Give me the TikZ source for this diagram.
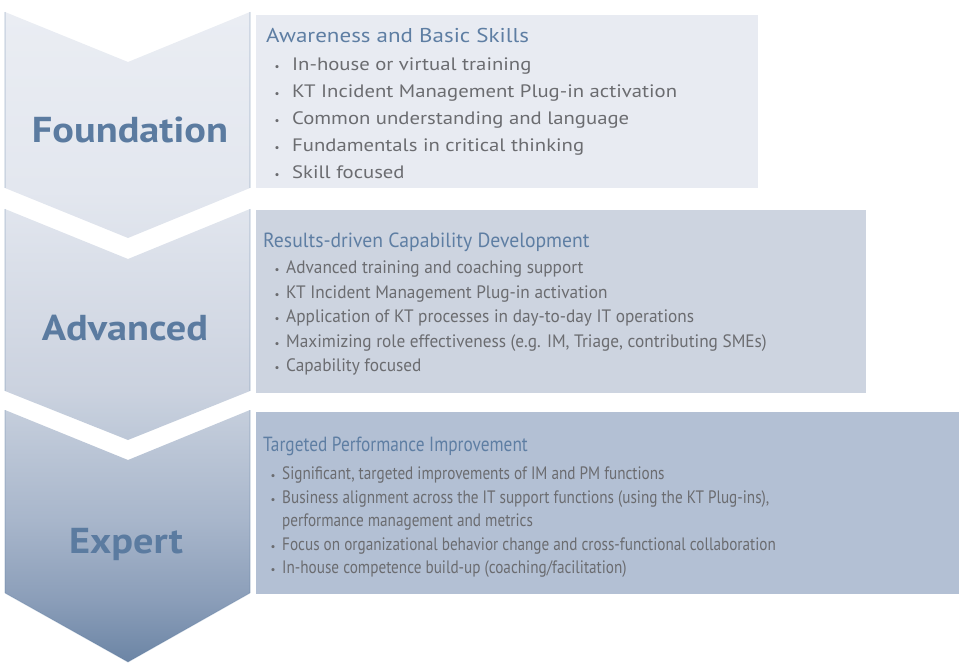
\documentclass[tikz,border=0pt]{standalone}
\usepackage{fontspec}
\setmainfont{PT Sans}
% three widths of the same face, one per panel, plus the stage labels
\newfontfamily\wideface[FakeStretch=1.15]{PT Sans}
\newfontfamily\midface[FakeStretch=0.96]{PT Sans}
\newfontfamily\narrowface[FakeStretch=0.845]{PT Sans}
\newfontfamily\stageface[FakeStretch=1.12]{PT Sans}

% palette
\definecolor{stageblue}{HTML}{5B7BA0}
\definecolor{headblue}{HTML}{5E7EA3}
\definecolor{bodygray}{HTML}{6B6C70}
\definecolor{boxA}{HTML}{E8EBF2}
\definecolor{boxB}{HTML}{CDD4E0}
\definecolor{boxC}{HTML}{B3C0D4}
\definecolor{sA}{HTML}{EAEDF3}
\definecolor{sB}{HTML}{E3E7EF}
\definecolor{sC}{HTML}{CBD2DF}
\definecolor{sD}{HTML}{C5CEDC}
\definecolor{sE}{HTML}{A8B6CB}
\definecolor{sF}{HTML}{8B9EB9}
\definecolor{sG}{HTML}{6C85A5}

% one gradient running down the whole stack of chevrons
\pgfdeclareverticalshading{stageshade}{100bp}{%
  color(0bp)=(sG); color(25bp)=(sG); color(29.8bp)=(sF);
  color(35.9bp)=(sE); color(44.4bp)=(sD); color(45.9bp)=(sC);
  color(61.3bp)=(sB); color(75bp)=(sA); color(100bp)=(sA)}

\tikzset{
  panel/.style={anchor=north west, inner sep=0pt, draw=none},
  stagelabel/.style={anchor=base, text=stageblue, font=\stageface\fontsize{36}{36}\selectfont\bfseries, inner sep=0pt},
  headA/.style={anchor=base west, text=headblue, font=\wideface\fontsize{20}{20}\selectfont, inner sep=0pt},
  headB/.style={anchor=base west, text=headblue, font=\midface\fontsize{20.5}{20}\selectfont, inner sep=0pt},
  headC/.style={anchor=base west, text=headblue, font=\narrowface\fontsize{20.5}{20}\selectfont, inner sep=0pt},
  itemA/.style={anchor=base west, text=bodygray, font=\wideface\fontsize{18}{18}\selectfont, inner sep=0pt},
  itemB/.style={anchor=base west, text=bodygray, font=\midface\fontsize{18}{18}\selectfont, inner sep=0pt},
  itemC/.style={anchor=base west, text=bodygray, font=\narrowface\fontsize{18}{18}\selectfont, inner sep=0pt},
  dot/.style={anchor=base, text=bodygray, font=\fontsize{11}{11}\selectfont, inner sep=0pt},
}

\begin{document}
\begin{tikzpicture}[x=1pt, y=-1pt]
\useasboundingbox (0,0) rectangle (959,663);

% stage chevrons
\path[shading=stageshade]
  (5,12) -- (128,62) -- (250,12) -- (250,188) -- (128,238) -- (5,188) -- cycle
  (5,209) -- (128,259) -- (250,209) -- (250,391) -- (128,440) -- (5,391) -- cycle
  (5,410) -- (128,460) -- (250,410) -- (250,593) -- (128,662) -- (5,593) -- cycle;
\draw[stageblue, opacity=0.18, line width=1.4pt]
  (5,12) -- (5,188) (250,12) -- (250,188)
  (5,209) -- (5,391) (250,209) -- (250,391)
  (5,410) -- (5,593) (250,410) -- (250,593);
\draw[stageblue, opacity=0.25, line width=1pt]
  (250,593) -- (128,662) -- (5,593);

\node[stagelabel] (foundation) at (130,142.5) {Foundation};
\node[stagelabel] (advanced) at (125,340) {Advanced};
\node[stagelabel] (expert) at (126,553) {Expert};

% description panels
\node[panel, fill=boxA, minimum width=502, minimum height=173] (boxA) at (256,15) {};
\node[panel, fill=boxB, minimum width=610, minimum height=183] (boxB) at (256,210) {};
\node[panel, fill=boxC, minimum width=703, minimum height=182] (boxC) at (256,412) {};

% Foundation
\node[headA] (a0) at (266,42.7) {Awareness and Basic Skills};
\node[dot] (da1) at (277,71) {•};    \node[itemA] (a1) at (292,71) {In-house or virtual training};
\node[dot] (da2) at (277,97.8) {•};  \node[itemA] (a2) at (292,97.8) {KT Incident Management Plug-in activation};
\node[dot] (da3) at (277,124.6) {•}; \node[itemA] (a3) at (292,124.6) {Common understanding and language};
\node[dot] (da4) at (277,151.4) {•}; \node[itemA] (a4) at (292,151.4) {Fundamentals in critical thinking};
\node[dot] (da5) at (277,178.2) {•}; \node[itemA] (a5) at (292,178.2) {Skill focused};

% Advanced
\node[headB] (b0) at (263,247.3) {Results-driven Capability Development};
\node[dot] (db1) at (277,274) {•};   \node[itemB] (b1) at (286,274) {Advanced training and coaching support};
\node[dot] (db2) at (277,298.4) {•}; \node[itemB] (b2) at (286,298.4) {KT Incident Management Plug-in activation};
\node[dot] (db3) at (277,322.8) {•}; \node[itemB] (b3) at (286,322.8) {Application of KT processes in day-to-day IT operations};
\node[dot] (db4) at (277,347.2) {•}; \node[itemB] (b4) at (286,347.2) {Maximizing role effectiveness (e.g. IM, Triage, contributing SMEs)};
\node[dot] (db5) at (277,371.6) {•}; \node[itemB] (b5) at (286,371.6) {Capability focused};

% Expert
\node[headC] (c0) at (263,451.7) {Targeted Performance Improvement};
\node[dot] (dc1) at (273,479.3) {•}; \node[itemC] (c1) at (282,479.3) {Significant, targeted improvements of IM and PM functions};
\node[dot] (dc2) at (273,503) {•};   \node[itemC] (c2) at (282,503) {Business alignment across the IT support functions (using the KT Plug-ins),};
                                     \node[itemC] (c2b) at (282,526.5) {performance management and metrics};
\node[dot] (dc3) at (273,550) {•};   \node[itemC] (c3) at (282,550) {Focus on organizational behavior change and cross-functional collaboration};
\node[dot] (dc4) at (273,573.3) {•}; \node[itemC] (c4) at (282,573.3) {In-house competence build-up (coaching/facilitation)};
\end{tikzpicture}
\end{document}
